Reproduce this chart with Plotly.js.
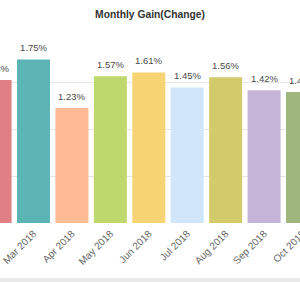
<!DOCTYPE html>
<html>
<head>
<meta charset="utf-8">
<script src="https://cdn.plot.ly/plotly-3.0.1.min.js"></script>
<style>
  html, body { margin: 0; padding: 0; overflow: hidden; background: #e9e9e9; width: 300px; height: 282px; }
  #chart { position: absolute; left: -40px; top: 0; width: 380px; height: 278px; }
</style>
</head>
<body>
<div id="chart"></div>
<script>
// Monthly gain per month, in percent
const months = ['Feb 2018', 'Mar 2018', 'Apr 2018', 'May 2018', 'Jun 2018',
                'Jul 2018', 'Aug 2018', 'Sep 2018', 'Oct 2018'];
const gains = [1.53, 1.75, 1.23, 1.57, 1.61, 1.45, 1.56, 1.42, 1.40];
const barColors = ['#e07f83', '#5cb4b4', '#ffbb96', '#bed86e', '#f7d473',
                   '#d2e6fa', '#d3ca6c', '#c6b4d9', '#9fb67f'];

const labelFont = { family: 'Liberation Sans, Arial, sans-serif', size: 9.5, color: '#4a4a4a' };

const trace = {
  type: 'bar',
  x: months,
  y: gains,
  marker: { color: barColors, line: { width: 0 } },
  hoverinfo: 'none'
};

// value labels above each bar
const annotations = months.map((m, i) => ({
  x: m,
  y: gains[i],
  xref: 'x',
  yref: 'y',
  text: gains[i].toFixed(2) + '%',
  showarrow: false,
  yanchor: 'bottom',
  yshift: 4,
  font: labelFont
}));

const layout = {
  width: 380,
  height: 278,
  margin: { l: 0, r: 0, t: 36, b: 55, pad: 0 },
  paper_bgcolor: '#ffffff',
  plot_bgcolor: '#ffffff',
  showlegend: false,
  bargap: 0.141,
  title: {
    text: 'Monthly Gain(Change)',
    x: 0.5,
    xref: 'paper',
    y: 1 - 14.5 / 278,
    yref: 'container',
    yanchor: 'middle',
    font: { family: 'Liberation Sans, Arial, sans-serif', size: 10.3, color: '#333333', weight: 'bold' }
  },
  xaxis: {
    type: 'category',
    range: [-0.9126, 8.9755],
    tickangle: -45,
    ticks: '',
    ticklabelstandoff: 2,
    showgrid: false,
    zeroline: false,
    showline: false,
    tickfont: { family: 'Liberation Sans, Arial, sans-serif', size: 10, color: '#666666' },
    fixedrange: true
  },
  yaxis: {
    range: [0, 2],
    dtick: 0.5,
    tick0: 0,
    showgrid: true,
    gridcolor: '#e6e6e6',
    gridwidth: 1,
    zeroline: false,
    showline: false,
    showticklabels: false,
    ticks: '',
    fixedrange: true
  },
  annotations: annotations
};

Plotly.newPlot('chart', [trace], layout, { displayModeBar: false, staticPlot: true });
</script>
</body>
</html>
